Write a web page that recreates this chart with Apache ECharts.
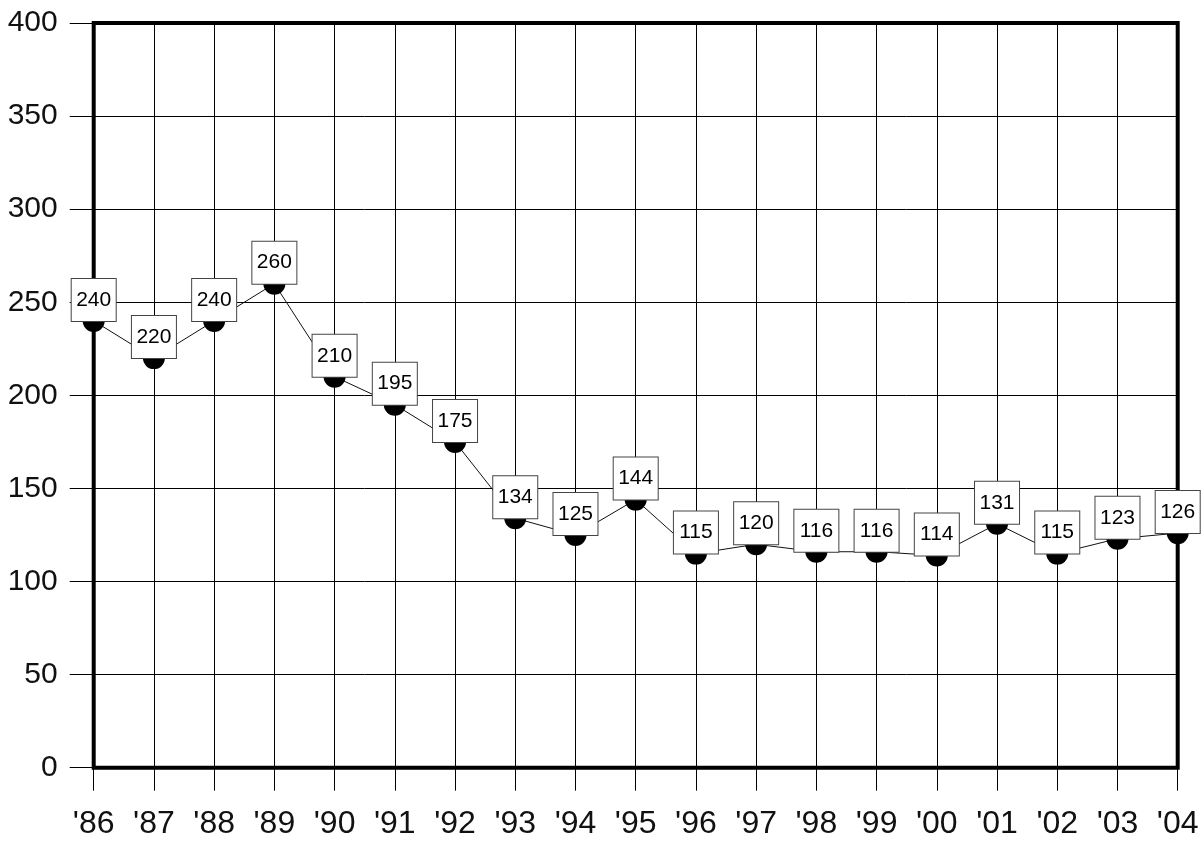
<!DOCTYPE html>
<html>
<head>
<meta charset="utf-8">
<script src="https://cdn.jsdelivr.net/npm/echarts@6/dist/echarts.min.js"></script>
<style>
html,body{margin:0;padding:0;background:#fff;}
#chart{width:1204px;height:843px;}
</style>
</head>
<body>
<div id="chart"></div>
<script>
const categories = ["'86","'87","'88","'89","'90","'91","'92","'93","'94","'95","'96","'97","'98","'99","'00","'01","'02","'03","'04"];
const values = [240,220,240,260,210,195,175,134,125,144,115,120,116,116,114,131,115,123,126];
const yTicks = [0,50,100,150,200,250,300,350,400];

const FONT = "'Liberation Sans', Arial, sans-serif";
const chart = echarts.init(document.getElementById('chart'), null, {renderer:'canvas'});
chart.setOption({
  animation:false,
  backgroundColor:'#fff',
  grid:{left:93.7,right:26.3,top:23,bottom:75.3,show:true,borderWidth:4,borderColor:'#000',backgroundColor:'transparent'},
  xAxis:{
    type:'category',
    data:categories,
    boundaryGap:false,
    axisLine:{show:false},
    axisTick:{show:true,interval:0,length:23,lineStyle:{color:'#000',width:1}},
    splitLine:{show:true,interval:0,lineStyle:{color:'#000',width:1}},
    axisLabel:{interval:0,fontFamily:FONT,fontSize:32,color:'#111',margin:40}
  },
  yAxis:{
    type:'value',
    min:yTicks[0],
    max:yTicks[yTicks.length-1],
    interval:50,
    axisLine:{show:false},
    axisTick:{show:true,length:24,lineStyle:{color:'#000',width:1}},
    splitLine:{show:true,lineStyle:{color:'#000',width:1}},
    axisLabel:{fontFamily:FONT,fontSize:30,color:'#111',margin:36}
  },
  series:[{
    type:'line',
    data:values,
    clip:false,
    symbol:'circle',
    symbolSize:22,
    itemStyle:{color:'#000'},
    lineStyle:{color:'#111',width:1},
    label:{
      show:true,
      position:'inside',
      offset:[0,-21],
      fontFamily:FONT,
      fontSize:21,
      color:'#000',
      width:32,
      height:26,
      lineHeight:26,
      align:'center',
      backgroundColor:'#fff',
      borderColor:'#444',
      borderWidth:1,
      padding:[8,6,8,6]
    }
  }]
});
</script>
</body>
</html>
